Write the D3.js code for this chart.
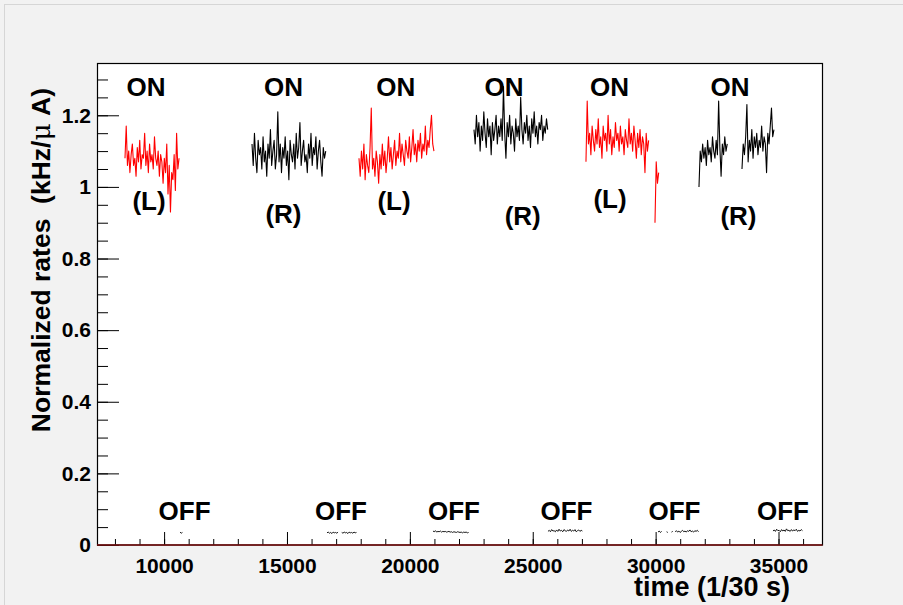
<!DOCTYPE html>
<html>
<head>
<meta charset="utf-8">
<script src="https://cdn.jsdelivr.net/npm/d3@7"></script>
<style>
  body { margin: 0; background: #f2f2f2; }
  svg { display: block; }
  text { font-family: "Liberation Sans", Arial, sans-serif; font-weight: bold; }
</style>
</head>
<body>
<svg id="chart" width="903" height="605"></svg>
<script>
// Rate per beam-current, one bin every 50 time units
const binWidth = 50;

// Beam ON runs, left (L) and right (R) spectrometer
const onL1 = [1.08, 1.17, 1.06, 1.10, 1.04, 1.09, 1.12, 1.06, 1.08, 1.03,
              1.11, 1.07, 1.13, 1.05, 1.09, 1.08, 1.15, 1.06, 1.10, 1.04,
              1.12, 1.07, 1.09, 1.05, 1.14, 1.08, 1.06, 1.10, 1.03, 1.09,
              1.07, 1.01, 1.08, 1.04, 1.12, 0.98, 1.06, 0.93, 1.04, 1.02,
              1.09, 0.99, 1.15, 1.05, 1.08];
const onR1 = [1.12, 1.06, 1.15, 1.08, 1.04, 1.13, 1.09, 1.11, 1.05, 1.14,
              1.07, 1.10, 1.03, 1.12, 1.08, 1.16, 1.06, 1.10, 1.13, 1.05,
              1.09, 1.21, 1.07, 1.12, 1.04, 1.11, 1.08, 1.14, 1.06, 1.10,
              1.02, 1.13, 1.09, 1.07, 1.12, 1.05, 1.15, 1.08, 1.11, 1.18,
              1.06, 1.10, 1.13, 1.07, 1.09, 1.04, 1.12, 1.08, 1.15, 1.06,
              1.11, 1.09, 1.14, 1.05, 1.10, 1.13, 1.07, 1.03, 1.11, 1.08,
              1.10];
const onL2 = [1.08, 1.03, 1.10, 1.05, 1.12, 1.02, 1.09, 1.06, 1.04, 1.11,
              1.22, 1.05, 1.08, 1.03, 1.10, 1.07, 1.01, 1.09, 1.05, 1.12,
              1.06, 1.10, 1.04, 1.08, 1.14, 1.07, 1.11, 1.05, 1.09, 1.13,
              1.06, 1.10, 1.08, 1.15, 1.07, 1.12, 1.09, 1.06, 1.13, 1.10,
              1.08, 1.14, 1.07, 1.11, 1.16, 1.09, 1.12, 1.07, 1.13, 1.10,
              1.15, 1.08, 1.12, 1.10, 1.17, 1.09, 1.13, 1.11, 1.16, 1.20,
              1.12, 1.10];
const onR2 = [1.16, 1.12, 1.20, 1.14, 1.18, 1.10, 1.17, 1.13, 1.21, 1.15,
              1.11, 1.19, 1.14, 1.17, 1.09, 1.18, 1.13, 1.16, 1.20, 1.12,
              1.17, 1.14, 1.19, 1.13, 1.28, 1.15, 1.08, 1.18, 1.14, 1.20,
              1.12, 1.17, 1.15, 1.10, 1.19, 1.14, 1.17, 1.13, 1.25, 1.16,
              1.12, 1.18, 1.15, 1.20, 1.13, 1.17, 1.11, 1.19, 1.15, 1.21,
              1.14, 1.17, 1.12, 1.18, 1.16, 1.20, 1.13, 1.17, 1.15, 1.19,
              1.16];
const onL3 = [1.07, 1.24, 1.12, 1.15, 1.09, 1.17, 1.13, 1.10, 1.16, 1.12,
              1.19, 1.11, 1.14, 1.08, 1.17, 1.13, 1.15, 1.10, 1.20, 1.12,
              1.16, 1.09, 1.14, 1.11, 1.18, 1.13, 1.15, 1.10, 1.17, 1.12,
              1.14, 1.09, 1.16, 1.13, 1.11, 1.19, 1.12, 1.15, 1.10, 1.17,
              1.13, 1.08, 1.15, 1.11, 1.16, 1.09, 1.14, 1.12, 1.04, 1.15,
              1.10, 1.13];
const onL3tail = [0.90, 1.07, 1.01, 1.04];
const onR3a = [1.00, 1.10, 1.07, 1.12, 1.08, 1.11, 1.06, 1.13, 1.09, 1.11,
               1.07, 1.14, 1.10, 1.08, 1.13, 1.09, 1.24, 1.11, 1.03, 1.12,
               1.09, 1.14, 1.10, 1.12];
const onR3b = [1.05, 1.12, 1.09, 1.14, 1.23, 1.07, 1.13, 1.10, 1.16, 1.08,
               1.14, 1.11, 1.15, 1.09, 1.13, 1.11, 1.17, 1.10, 1.14, 1.12,
               1.04, 1.15, 1.12, 1.17, 1.22, 1.14, 1.16];

// Beam OFF runs (background), null marks a missing bin
const off1 = [0.036, 0.033, 0.035];
const off2 = [0.034, 0.036, 0.033, 0.035, 0.032, 0.036, 0.034, 0.035, 0.033, 0.036,
              null, null, 0.035, 0.033, 0.036, 0.034, 0.035, 0.032, 0.036, 0.034,
              0.035, 0.033, 0.036, 0.034, 0.035];
const off3 = [0.039, 0.037, 0.040, 0.036, 0.038, 0.037, 0.039, 0.036, 0.038, 0.037,
              0.038, 0.036, 0.037, 0.038, 0.036, 0.037, 0.035, 0.037, 0.036, 0.035,
              0.037, 0.036, 0.035, 0.036, 0.034, 0.036, 0.035, 0.036, 0.034, 0.035];
const off4 = [0.038, 0.041, 0.037, 0.043, 0.039, 0.040, 0.037, 0.042, 0.038, 0.044,
              0.039, 0.041, 0.037, 0.043, 0.040, 0.038, 0.042, 0.039, 0.044, 0.038,
              0.041, 0.039, 0.043, 0.037, 0.040, 0.042, 0.038, 0.041, 0.039];
const off5 = [0.036, 0.039, 0.035, 0.038, null, null, null, 0.037, 0.035, null,
              null, 0.036, 0.038, null, 0.037, 0.040, 0.036, 0.039, 0.035, 0.038,
              0.041, 0.037, 0.039, 0.036, 0.040, 0.038, 0.042, 0.037, 0.039, 0.036,
              0.040, 0.038, 0.041, 0.037];
const off6 = [0.039, 0.042, 0.038, 0.044, 0.040, 0.041, 0.037, 0.043, 0.039, 0.042,
              0.038, 0.045, 0.040, 0.041, 0.038, 0.043, 0.039, 0.042, 0.040, 0.044,
              0.038, 0.041, 0.039, 0.043, 0.040];

// Each run: first bin time, arm, values
const runs = [
  { start: 8409,  arm: "L", values: onL1 },
  { start: 13577, arm: "R", values: onR1 },
  { start: 17930, arm: "L", values: onL2 },
  { start: 22609, arm: "R", values: onR2 },
  { start: 27166, arm: "L", values: onL3 },
  { start: 29974, arm: "L", values: onL3tail },
  { start: 31764, arm: "R", values: onR3a },
  { start: 33514, arm: "R", values: onR3b },
  { start: 10647, arm: "off", values: off1 },
  { start: 16628, arm: "off", values: off2 },
  { start: 20941, arm: "off", values: off3 },
  { start: 25620, arm: "off", values: off4 },
  { start: 30096, arm: "off", values: off5 },
  { start: 34775, arm: "off", values: off6 }
];

// Annotations in data coordinates
const onLabels  = [9264, 14858, 19428, 23830, 28123, 33026];
const armLabels = [
  { t: 9386,  v: 0.936, text: "(L)" },
  { t: 14858, v: 0.899, text: "(R)" },
  { t: 19354, v: 0.936, text: "(L)" },
  { t: 24591, v: 0.894, text: "(R)" },
  { t: 28143, v: 0.941, text: "(L)" },
  { t: 33372, v: 0.894, text: "(R)" }
];
const offLabels = [10834, 17198, 21796, 26373, 30767, 35182];
const onLabelLevel = 1.253;
const offLabelLevel = 0.070;

const xMajor = [10000, 15000, 20000, 25000, 30000, 35000];
const xMinor = d3.range(8000, 37000, 1000);
const yMajor = [0, 0.2, 0.4, 0.6, 0.8, 1.0, 1.2];
const yMinor = d3.range(0, 1.34, 0.05);

const armColor = { L: "#ff0000", R: "#000000", off: "#000000" };

const svg = d3.select("#chart");
const W = 903, H = 605;
const frame = { left: 97, right: 822.5, top: 63, bottom: 545 };

// Canvas border
svg.append("rect").attr("x", 4.5).attr("y", 4.5).attr("width", W + 10).attr("height", H + 10)
  .attr("fill", "#f2f2f2").attr("stroke", "#d6d6d6");

const x = d3.scaleLinear().domain([7270, 36790]).range([frame.left, frame.right]);
const y = d3.scaleLinear().domain([0, 1.346]).range([frame.bottom, frame.top]);

svg.append("rect")
  .attr("x", frame.left).attr("y", frame.top)
  .attr("width", frame.right - frame.left).attr("height", frame.bottom - frame.top)
  .attr("fill", "#ffffff");

// Data
const line = d3.line()
  .defined(d => d.v !== null)
  .x(d => x(d.t))
  .y(d => y(d.v));

const g = svg.append("g");
runs.forEach(run => {
  const pts = run.values.map((v, i) => ({ t: run.start + i * binWidth, v }));
  g.append("path")
    .datum(pts)
    .attr("d", line)
    .attr("fill", "none")
    .attr("stroke", armColor[run.arm])
    .attr("stroke-width", run.arm === "off" ? 0.9 : 1.1)
    .attr("stroke-linejoin", "round");
});

// Axes
const axisStyle = sel => {
  sel.select(".domain").remove();
  sel.selectAll("line").attr("stroke", "#000").attr("stroke-width", 1);
  sel.selectAll("text").attr("fill", "#000").style("font-size", "21px")
    .style("font-family", '"Liberation Sans", Arial, sans-serif').style("font-weight", "bold");
};

svg.append("g").attr("transform", `translate(${frame.left},0)`)
  .call(d3.axisLeft(y).tickValues(yMinor).tickSize(-11).tickFormat(""))
  .call(axisStyle);
svg.append("g").attr("transform", `translate(${frame.left},0)`)
  .call(d3.axisLeft(y).tickValues(yMajor).tickSize(-22).tickPadding(6)
    .tickFormat(d => d === 0 ? "0" : d === 1 ? "1" : d3.format(".1f")(d)))
  .call(axisStyle);

svg.append("g").attr("transform", `translate(0,${frame.bottom})`)
  .call(d3.axisBottom(x).tickValues(xMinor).tickSize(-6).tickFormat(""))
  .call(axisStyle);
svg.append("g").attr("transform", `translate(0,${frame.bottom})`)
  .call(d3.axisBottom(x).tickValues(xMajor).tickSize(-13).tickPadding(13).tickFormat(d3.format("d")))
  .call(axisStyle);

// Frame
svg.append("rect")
  .attr("x", frame.left + 0.5).attr("y", frame.top + 0.5)
  .attr("width", frame.right - frame.left - 0.5).attr("height", frame.bottom - frame.top - 0.5)
  .attr("fill", "none").attr("stroke", "#000").attr("stroke-width", 1.2);
svg.append("line")
  .attr("x1", frame.left).attr("x2", frame.right)
  .attr("y1", y(0)).attr("y2", y(0))
  .attr("stroke", "#7a1010").attr("stroke-width", 1.4);

// Annotations
const ann = svg.append("g").style("font-size", "26px").attr("fill", "#000");
ann.selectAll(".on").data(onLabels).join("text")
  .attr("x", d => x(d)).attr("y", y(onLabelLevel))
  .attr("text-anchor", "middle").text("ON");
ann.selectAll(".arm").data(armLabels).join("text")
  .attr("x", d => x(d.t)).attr("y", d => y(d.v))
  .attr("text-anchor", "middle").text(d => d.text);
ann.selectAll(".off").data(offLabels).join("text")
  .attr("x", d => x(d)).attr("y", y(offLabelLevel))
  .attr("text-anchor", "middle").text("OFF");

// Axis titles
svg.append("text")
  .attr("x", 790).attr("y", 596)
  .attr("text-anchor", "end")
  .style("font-size", "27px")
  .text("time (1/30 s)");

const yt = svg.append("text")
  .attr("transform", "translate(50,88) rotate(-90)")
  .attr("text-anchor", "end")
  .style("font-size", "26.5px")
  .style("white-space", "pre");
yt.append("tspan").text("Normalized rates  (kHz/");
yt.append("tspan").style("font-weight", "normal").style("font-family", '"DejaVu Serif", serif').text("μ");
yt.append("tspan").text(" A)");
</script>
</body>
</html>
